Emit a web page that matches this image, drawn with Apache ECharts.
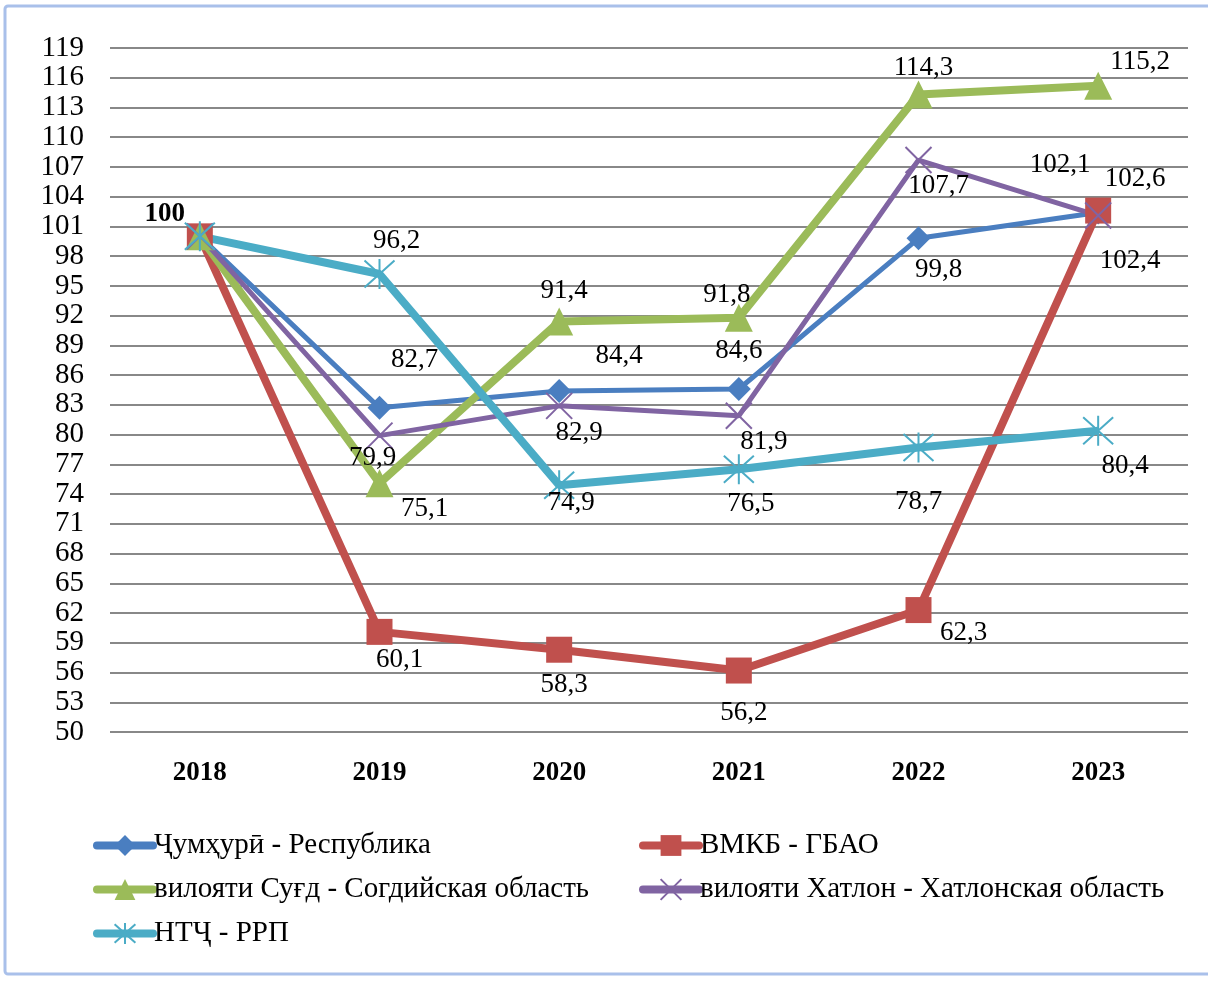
<!DOCTYPE html>
<html>
<head>
<meta charset="utf-8">
<script src="https://cdn.jsdelivr.net/npm/echarts@6/dist/echarts.min.js"></script>
<style>
  html, body { margin: 0; padding: 0; background: #fff; }
  #chart { width: 1208px; height: 983px; }
</style>
</head>
<body>
<div id="chart"></div>
<script>
// data
var years = ['2018', '2019', '2020', '2021', '2022', '2023']
var seriesNames = [
  'Ҷумҳурӣ - Республика',
  'ВМКБ - ГБАО',
  'вилояти Суғд - Согдийская область',
  'вилояти Хатлон - Хатлонская область',
  'НТҶ - РРП'
]
var respublika = [100, 82.7, 84.4, 84.6, 99.8, 102.4]
var gbao = [100, 60.1, 58.3, 56.2, 62.3, 102.6]
var sogd = [100, 75.1, 91.4, 91.8, 114.3, 115.2]
var khatlon = [100, 79.9, 82.9, 81.9, 107.7, 102.1]
var rrp = [100, 96.2, 74.9, 76.5, 78.7, 80.4]

// label offsets (null = no label)
var offsets = [
  [null, [35, -48], [60, -35], [0, -38], [20, 32], [32, 48]],
  [null, [20, 28], [5, 35], [5, 42], [45, 23], [37, -32]],
  [null, [45, 26], [5, -31], [-12, -23], [5, -27], [42, -24]],
  [null, [-7, 22], [20, 27], [25, 26], [20, 26], [-38, -51]],
  [[-35, -22], [17, -33], [12, 18], [12, 35], [0, 54], [27, 35]]
]

var FONT = '"Liberation Serif", "Times New Roman", serif'
var xPath = 'path://M0,0L10,10M10,0L0,10'
var starPath = 'path://M5,0L5,10M0.5,0.5L9.5,9.5M9.5,0.5L0.5,9.5'

function fmt(v) {
  return (v === 100 ? '100' : v.toFixed(1).replace('.', ','))
}

function buildData(values, offs) {
  return values.map(function (v, i) {
    if (!offs[i]) return { value: v, label: { show: false } }
    var lbl = { show: true }
    if (i === 0) lbl.fontWeight = 'bold'
    return { value: v, label: lbl }
  })
}

var styles = [
  { color: '#4A7EC0', width: 5, symbol: 'diamond', size: 24, stroke: false },
  { color: '#C0504D', width: 8, symbol: 'rect', size: 26, stroke: false },
  { color: '#9BBB59', width: 8, symbol: 'triangle', size: 28, stroke: false },
  { color: '#8064A2', width: 5, symbol: xPath, size: 26, stroke: true },
  { color: '#4BACC6', width: 8, symbol: starPath, size: 30, stroke: true }
]
var allValues = [respublika, gbao, sogd, khatlon, rrp]

var series = allValues.map(function (vals, k) {
  var s = styles[k]
  var offs = offsets[k]
  return {
    name: seriesNames[k],
    type: 'line',
    data: buildData(vals, offs),
    symbol: s.symbol,
    symbolSize: s.size,
    showAllSymbol: true,
    lineStyle: { color: s.color, width: s.width },
    itemStyle: s.stroke
      ? { color: 'rgba(0,0,0,0)', borderColor: s.color, borderWidth: 2 }
      : { color: s.color, borderWidth: 0 },
    label: {
      position: 'inside',
      formatter: function (p) { return fmt(p.value) },
      fontFamily: FONT,
      fontSize: 27,
      color: '#000',
      align: 'center',
      verticalAlign: 'middle'
    },
    labelLayout: function (p) {
      var o = offs[p.dataIndex] || [0, 0]
      return { dx: o[0], dy: o[1], hideOverlap: false }
    },
    emphasis: { disabled: true },
    animation: false
  }
})

var legendText = { fontFamily: FONT, fontSize: 29, color: '#000', padding: [0, 0, 0, -4] }

var chart = echarts.init(document.getElementById('chart'))
chart.setOption({
  backgroundColor: '#fff',
  textStyle: { fontFamily: FONT },
  graphic: [{
    type: 'rect',
    shape: { x: 5, y: 6, width: 1210, height: 968, r: 3 },
    style: { fill: 'none', stroke: '#A9C0EA', lineWidth: 3 },
    silent: true
  }],
  grid: { left: 110, right: 20, top: 48, bottom: 251 },
  xAxis: {
    type: 'category',
    data: years,
    boundaryGap: true,
    axisLine: { show: false },
    axisTick: { show: false },
    axisLabel: {
      fontFamily: FONT, fontSize: 27, fontWeight: 'bold', color: '#000', margin: 28
    }
  },
  yAxis: {
    type: 'value',
    min: 50,
    max: 119,
    interval: 3,
    axisLine: { show: false },
    axisTick: { show: false },
    axisLabel: {
      fontFamily: FONT, fontSize: 29, color: '#000', margin: 26, lineHeight: 22,
      showMinLabel: true, showMaxLabel: true, hideOverlap: false
    },
    splitLine: { lineStyle: { color: '#888', width: 2 } }
  },
  legend: [{
    data: [seriesNames[0], seriesNames[2], seriesNames[4]],
    orient: 'vertical',
    left: 88,
    top: 826,
    itemGap: 15,
    itemWidth: 56,
    itemHeight: 26,
    lineStyle: { width: 8, cap: 'round' },
    textStyle: legendText
  }, {
    data: [seriesNames[1], seriesNames[3]],
    orient: 'vertical',
    left: 634,
    top: 826,
    itemGap: 15,
    itemWidth: 56,
    itemHeight: 26,
    lineStyle: { width: 8, cap: 'round' },
    textStyle: legendText
  }],
  series: series
})
</script>
</body>
</html>
